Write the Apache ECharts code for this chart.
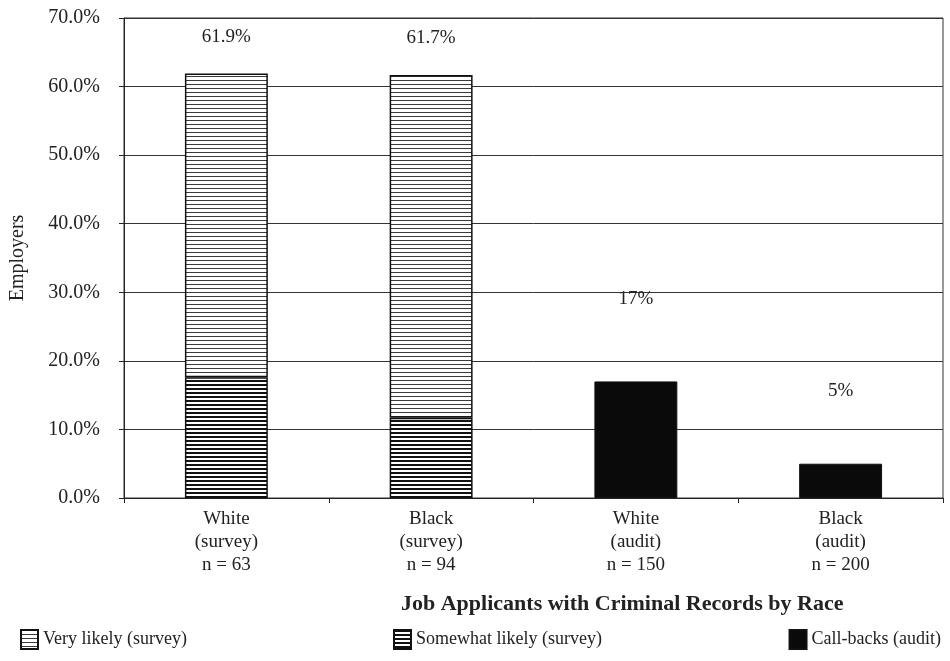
<!DOCTYPE html>
<html>
<head>
<meta charset="utf-8">
<script src="https://cdn.jsdelivr.net/npm/echarts@6/dist/echarts.min.js"></script>
<style>
  html, body { margin: 0; padding: 0; background: #fff; }
  #chart { width: 950px; height: 661px; }
</style>
</head>
<body>
<div id="chart"></div>
<script>
// Employer responses to applicants with criminal records, by race
const categories = ['White\n(survey)\nn = 63', 'Black\n(survey)\nn = 94', 'White\n(audit)\nn = 150', 'Black\n(audit)\nn = 200'];
const surveyTotal = [61.9, 61.7, null, null];      // very + somewhat likely (labelled)
const somewhatLikely = [17.6, 11.7, null, null];   // lower segment of survey bars
const callBacks = [null, null, 17, 5];             // audit call-back rates
const yTicks = [0, 10, 20, 30, 40, 50, 60, 70];

const veryLikely = surveyTotal.map((t, i) => t == null ? null : +(t - somewhatLikely[i]).toFixed(1));

const FONT = 'Liberation Serif';

// horizontal-line hatch patterns
function hatch(period, lineH, color) {
  const c = document.createElement('canvas');
  c.width = 8; c.height = period;
  const g = c.getContext('2d');
  g.fillStyle = '#fff';
  g.fillRect(0, 0, c.width, c.height);
  g.fillStyle = color;
  g.fillRect(0, 0, c.width, lineH);
  return { image: c, repeat: 'repeat' };
}
const lightHatch = hatch(4, 1, '#3a3a3a');
const darkHatch = hatch(4, 2, '#111');

const chart = echarts.init(document.getElementById('chart'), null, { renderer: 'canvas' });

// label offsets above each bar
const labelOffsets = [-27, -27, -73, -63];

const legendBase = {
  orient: 'horizontal',
  bottom: 6,
  itemWidth: 17,
  itemHeight: 19,
  itemGap: 10,
  textStyle: { fontFamily: FONT, fontSize: 18, color: '#222' },
  icon: 'rect'
};

chart.setOption({
  backgroundColor: '#fff',
  animation: false,
  textStyle: { fontFamily: FONT },
  title: {
    text: 'Job Applicants with Criminal Records by Race',
    left: 396,
    top: 588,
    textStyle: { fontFamily: FONT, fontSize: 22, fontWeight: 'bold', color: '#222' }
  },
  grid: {
    left: 124, right: 7, top: 18, bottom: 163,
    show: true, borderColor: '#333', borderWidth: 1
  },
  legend: [
    Object.assign({}, legendBase, { left: 15, data: ['Very likely (survey)'] }),
    Object.assign({}, legendBase, { left: 388, data: ['Somewhat likely (survey)'] }),
    Object.assign({}, legendBase, { right: 4, data: ['Call-backs (audit)'] })
  ],
  xAxis: {
    type: 'category',
    data: categories,
    axisLine: { lineStyle: { color: '#222', width: 1 } },
    axisTick: { show: true, length: 5, alignWithLabel: false, lineStyle: { color: '#222' } },
    axisLabel: { fontFamily: FONT, fontSize: 19, color: '#222', lineHeight: 23, margin: 10 }
  },
  yAxis: {
    type: 'value',
    min: yTicks[0],
    max: yTicks[yTicks.length - 1],
    interval: 10,
    name: 'Employers',
    nameLocation: 'middle',
    nameGap: 96,
    nameTextStyle: { fontFamily: FONT, fontSize: 20, color: '#222' },
    axisLine: { show: true, lineStyle: { color: '#222', width: 1 } },
    axisTick: { show: true, length: 5, lineStyle: { color: '#222' } },
    axisLabel: {
      fontFamily: FONT, fontSize: 20, color: '#222', margin: 24,
      formatter: v => v.toFixed(1) + '%'
    },
    splitLine: { show: true, lineStyle: { color: '#333', width: 1 } }
  },
  series: [
    {
      name: 'Somewhat likely (survey)',
      type: 'bar',
      stack: 'survey',
      barWidth: '40.5%',
      data: somewhatLikely,
      itemStyle: { color: darkHatch, borderColor: '#111', borderWidth: 1.5 }
    },
    {
      name: 'Very likely (survey)',
      type: 'bar',
      stack: 'survey',
      barWidth: '40.5%',
      data: veryLikely.map((v, i) => v == null ? null : {
        value: v,
        label: {
          show: true, position: 'top', distance: 0, offset: [0, labelOffsets[i]],
          formatter: () => surveyTotal[i].toFixed(1) + '%'
        }
      }),
      label: { fontFamily: FONT, fontSize: 19, color: '#222' },
      itemStyle: { color: lightHatch, borderColor: '#111', borderWidth: 1.5 }
    },
    {
      name: 'Call-backs (audit)',
      type: 'bar',
      stack: 'survey',
      barWidth: '40.5%',
      data: callBacks.map((v, i) => v == null ? null : {
        value: v,
        label: {
          show: true, position: 'top', distance: 0, offset: [0, labelOffsets[i]],
          formatter: () => v + '%'
        }
      }),
      label: { fontFamily: FONT, fontSize: 19, color: '#222' },
      itemStyle: { color: '#0a0a0a', borderColor: '#111', borderWidth: 1 }
    }
  ]
});
</script>
</body>
</html>
